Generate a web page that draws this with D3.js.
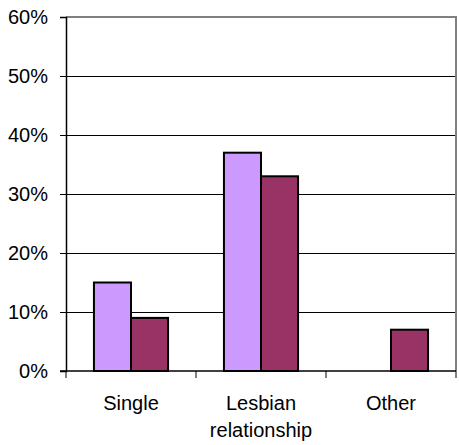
<!DOCTYPE html>
<html>
<head>
<meta charset="utf-8">
<script src="https://cdn.jsdelivr.net/npm/d3@7"></script>
<style>
  html, body { margin: 0; padding: 0; background: #fff; }
  svg text { font-family: "Liberation Sans", Arial, sans-serif; fill: #000; }
</style>
</head>
<body>
<svg id="chart" width="459" height="445"></svg>
<script>
// Relationship status, two groups
const categories = [["Single"], ["Lesbian", "relationship"], ["Other"]];
const seriesA = [15, 37, 0];   // light purple
const seriesB = [9, 33, 7];    // plum
const yTicks = [0, 10, 20, 30, 40, 50, 60];

const margin = { left: 66, right: 3, top: 17, bottom: 74 };
const W = 459, H = 445;
const svg = d3.select("#chart");

const x = d3.scaleBand().domain(d3.range(categories.length))
  .range([margin.left, W - margin.right]).paddingInner(0).paddingOuter(0);
const y = d3.scaleLinear().domain([0, 60]).range([H - margin.bottom, margin.top]);

const barW = x.bandwidth() * 0.285;

// gridlines
svg.append("g").selectAll("line").data(yTicks.filter(t => t > 0 && t < 60)).join("line")
  .attr("x1", margin.left).attr("x2", W - margin.right)
  .attr("y1", d => y(d)).attr("y2", d => y(d))
  .attr("stroke", "#000").attr("stroke-width", 1).attr("shape-rendering", "crispEdges");

// plot frame top/right
svg.append("path")
  .attr("d", `M${margin.left},${y(60)}H${W - margin.right}V${y(0)}`)
  .attr("fill", "none").attr("stroke", "#808080").attr("stroke-width", 2);

// bars
const groups = svg.append("g").selectAll("g").data(categories).join("g");
groups.each(function(d, i) {
  const cx = x(i) + x.bandwidth() / 2;
  const g = d3.select(this);
  if (seriesA[i] > 0) {
    g.append("rect").attr("x", cx - barW).attr("width", barW)
      .attr("y", y(seriesA[i])).attr("height", y(0) - y(seriesA[i]))
      .attr("fill", "#CC99FF").attr("stroke", "#000").attr("stroke-width", 2);
  }
  if (seriesB[i] > 0) {
    g.append("rect").attr("x", cx).attr("width", barW)
      .attr("y", y(seriesB[i])).attr("height", y(0) - y(seriesB[i]))
      .attr("fill", "#993366").attr("stroke", "#000").attr("stroke-width", 2);
  }
});

// y axis
const yAxis = d3.axisLeft(y).tickValues(yTicks).tickFormat(d => d + "%").tickSize(6).tickPadding(12);
const ya = svg.append("g").attr("transform", `translate(${margin.left},0)`).call(yAxis);
ya.select(".domain").attr("stroke", "#000").attr("stroke-width", 1.5);
ya.selectAll(".tick line").attr("stroke", "#000");
ya.selectAll("text").attr("font-size", 20).attr("font-family", "Liberation Sans, Arial, sans-serif");

// x axis
const xa = svg.append("g").attr("transform", `translate(0,${y(0)})`);
xa.append("line").attr("x1", margin.left - 6).attr("x2", W - margin.right)
  .attr("stroke", "#000").attr("stroke-width", 1.5);
xa.selectAll(".xt").data(d3.range(categories.length + 1)).join("line")
  .attr("x1", i => margin.left + i * x.bandwidth()).attr("x2", i => margin.left + i * x.bandwidth())
  .attr("y1", 0).attr("y2", 7).attr("stroke", "#000");
xa.selectAll(".xl").data(categories).join("text")
  .attr("x", (d, i) => x(i) + x.bandwidth() / 2)
  .attr("y", 39)
  .attr("text-anchor", "middle").attr("font-size", 20)
  .selectAll("tspan").data(d => d).join("tspan")
  .attr("x", function() { return d3.select(this.parentNode).attr("x"); })
  .attr("dy", (d, j) => j === 0 ? 0 : 27)
  .text(d => d);
</script>
</body>
</html>
